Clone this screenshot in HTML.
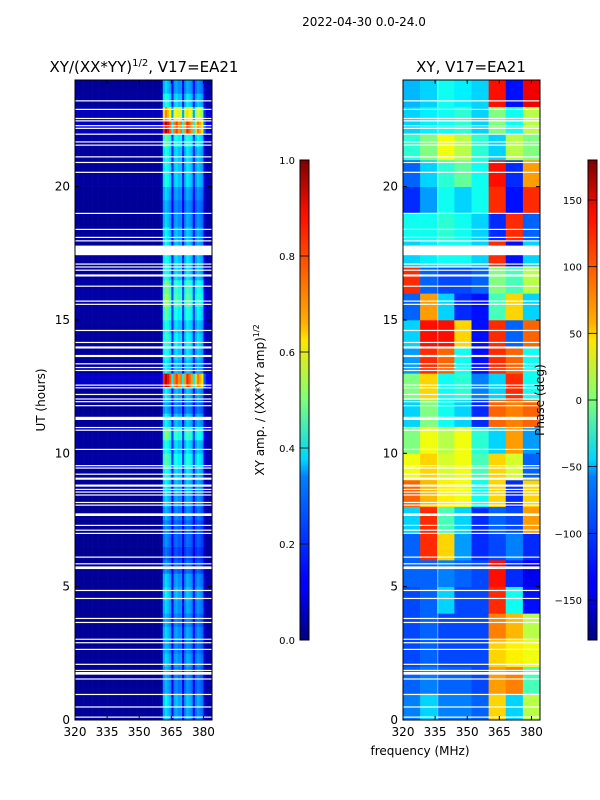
<!DOCTYPE html>
<html><head><meta charset="utf-8"><style>
html,body{margin:0;padding:0;background:#fff;}
svg{display:block;font-family:"DejaVu Sans","Liberation Sans",sans-serif;}
</style></head><body>
<svg id="fig" width="600" height="800" viewBox="0 0 600 800" xmlns="http://www.w3.org/2000/svg">
<defs>
<linearGradient id="jet" x1="0" y1="1" x2="0" y2="0">
<stop offset="0" stop-color="#00007f"/><stop offset="0.11" stop-color="#0000ff"/><stop offset="0.125" stop-color="#0000ff"/>
<stop offset="0.34" stop-color="#0080ff"/><stop offset="0.375" stop-color="#00d4ff"/><stop offset="0.5" stop-color="#7dff7a"/>
<stop offset="0.625" stop-color="#ffe600"/><stop offset="0.66" stop-color="#ffb000"/><stop offset="0.875" stop-color="#ff1300"/>
<stop offset="0.89" stop-color="#fa0f00"/><stop offset="1" stop-color="#7f0000"/>
</linearGradient>
</defs>
<text x="364" y="26" font-size="12" text-anchor="middle">2022-04-30 0.0-24.0</text>
<text x="144" y="72" font-size="15" text-anchor="middle">XY/(XX*YY)<tspan font-size="10" dy="-6">1/2</tspan><tspan dy="6">, V17=EA21</tspan></text>
<text x="471" y="72" font-size="15" text-anchor="middle">XY, V17=EA21</text>
<g id="leftMap"></g>
<g id="rightMap"></g>
<g id="axes"></g>
<rect x="300" y="160" width="9" height="480" fill="url(#jet)" stroke="#000" stroke-width="1"/>
<rect x="588" y="160" width="9" height="480" fill="url(#jet)" stroke="#000" stroke-width="1"/>
<g id="cbars"></g>
<text x="0" y="0" font-size="12" text-anchor="middle" transform="translate(264,400) rotate(-90)">XY amp. / (XX*YY amp)<tspan font-size="8" dy="-5">1/2</tspan></text>
<text x="0" y="0" font-size="12" text-anchor="middle" transform="translate(544,400) rotate(-90)">Phase (deg)</text>
<text x="0" y="0" font-size="12" text-anchor="middle" transform="translate(45,400) rotate(-90)">UT (hours)</text>
<text x="420" y="755" font-size="12" text-anchor="middle">frequency (MHz)</text>
</svg>
<script>
// ---- data ----
const freqTicks = [320, 335, 350, 365, 380];
const hourTicks = [0, 5, 10, 15, 20];
const ampTicks = [0.0, 0.2, 0.4, 0.6, 0.8, 1.0];
const phaseTicks = [-150, -100, -50, 0, 50, 100, 150];
// per-MHz channel weight (320..383)
const channelWeight = [0.025,0.025,0.025,0.025,0.025,0.025,0.025,0.025,0.025,0.025,0.025,0.025,0.025,0.025,0.025,0.025,0.025,0.025,0.025,0.025,
0.025,0.025,0.025,0.025,0.025,0.025,0.025,0.025,0.025,0.025,0.025,0.025,0.025,0.025,0.025,0.025,0.025,0.025,0.025,0.025,
0.04,0.3,0.34,0.31,0.28,0.13,0.27,0.29,0.26,0.27,0.13,0.26,0.3,0.28,0.26,0.13,0.24,0.27,0.25,0.23,0.08,0.04,0.04,0.04];
// half-hour amplitude level, hour 0 -> 24
const rowLevel = [1.0,1.1,0.9,0.9,1.0,0.9,1.0,0.9,1.0,1.1,1.0,0.8,0.7,0.8,0.8,0.9,1.0,1.1,1.2,1.4,1.2,1.5,1.1,0.9,1.1,2.8,1.1,1.2,1.3,1.2,1.4,1.6,1.5,1.2,1.2,1.1,1.1,1.0,0.9,1.0,1.2,1.2,1.2,1.4,2.8,2.2,1.2,1.0];
// phase grid (deg): 24 hourly rows (hour 0 first) x 8 bands of 8 MHz
const phaseGrid = [
[-90,-60,-90,-90,-100,60,-60,20],
[-100,-90,-100,-100,-110,80,90,-20],
[-110,-100,-110,-110,-110,60,50,40],
[-110,-100,-110,-110,-110,90,70,20],
[-110,-100,-60,-110,-110,120,-40,-130],
[-100,-100,-90,-100,-110,130,-120,-140],
[-100,120,60,-80,-120,-110,-90,-120],
[-60,120,-20,-60,-120,-100,-110,80],
[100,70,50,40,-40,60,-120,60],
[40,60,30,40,-20,60,30,-100],
[0,40,20,40,-30,-60,80,-80],
[-60,0,-40,-60,-120,100,90,100],
[0,60,-40,-30,-90,-60,120,-40],
[-80,120,100,-40,-130,120,100,-40],
[-60,130,130,60,-130,120,-100,100],
[-100,80,-60,-120,-130,-20,60,-60],
[120,-100,-110,-110,-100,0,-20,20],
[-60,-50,-40,-40,-60,120,-130,-60],
[-40,-40,-30,-40,-60,-120,120,-100],
[-120,-80,-40,-60,-40,120,-130,120],
[-100,-60,-30,-10,-40,130,-120,80],
[-30,0,40,20,-30,-60,20,0],
[-60,-50,-40,-30,-60,0,-40,20],
[-70,-60,-40,-50,-60,130,-130,140]];
// flagged (white) time ranges [start, end] in hours
const gaps = [[0.09,0.13],[0.47,0.51],[0.94,0.98],[1.52,1.56],[1.70,1.80],[1.84,1.88],[2.07,2.11],[2.63,2.67],[2.88,2.92],[3.01,3.05],[3.64,3.68],[3.79,3.83],[4.54,4.58],[4.84,4.88],[5.66,5.76],[5.84,5.88],[6.09,6.13],[6.98,7.02],[7.10,7.14],[7.28,7.32],[7.65,7.75],[8.04,8.08],[8.14,8.18],[8.42,8.46],[8.53,8.57],[8.63,8.67],[8.75,8.83],[9.01,9.09],[9.20,9.24],[9.43,9.47],[9.52,9.56],[10.13,10.17],[10.85,10.89],[10.95,10.99],[11.25,11.37],[11.77,11.81],[11.92,11.96],[12.02,12.06],[12.19,12.23],[12.44,12.48],[12.54,12.58],[13.09,13.13],[13.20,13.24],[13.34,13.38],[13.61,13.69],[13.93,14.01],[14.14,14.18],[14.59,14.63],[15.57,15.61],[15.69,15.73],[16.25,16.29],[16.63,16.71],[16.85,16.89],[16.97,17.01],[17.08,17.12],[17.43,17.79],[17.95,17.99],[18.08,18.12],[18.38,18.42],[18.98,19.02],[20.52,20.56],[20.89,20.93],[21.10,21.14],[21.54,21.58],[21.66,21.70],[21.95,21.99],[22.17,22.21],[22.27,22.31],[22.45,22.49],[22.54,22.58],[22.88,22.92],[23.20,23.24]];

// ---- helpers ----
const NS = "http://www.w3.org/2000/svg";
function jet(v){ v=Math.max(0,Math.min(1,v));
  const r=Math.max(0,Math.min(1,1.5-Math.abs(4*v-3)));
  const g=Math.max(0,Math.min(1,1.5-Math.abs(4*v-2)));
  const b=Math.max(0,Math.min(1,1.5-Math.abs(4*v-1)));
  return `rgb(${Math.round(r*255)},${Math.round(g*255)},${Math.round(b*255)})`; }
function mk(tag, attrs, parent){ const e=document.createElementNS(NS,tag); for(const k in attrs) e.setAttribute(k,attrs[k]); parent.appendChild(e); return e; }
const Y0=720, Y1=80, HMAX=24, FMIN=320, FMAX=384;
function yScale(h){ return Y0 - (h/HMAX)*(Y0-Y1); }
function xScaleL(f){ return 75 + (f-FMIN)/(FMAX-FMIN)*137; }
function xScaleR(f){ return 403 + (f-FMIN)/(FMAX-FMIN)*137; }

// ---- left heatmap ----
const L = document.getElementById('leftMap');
for(let r=0;r<rowLevel.length;r++){
  const h0=r*0.5, h1=h0+0.5;
  for(let c=0;c<channelWeight.length;c++){
    const f0=FMIN+c, f1=f0+1;
    const x=xScaleL(f0), y=yScale(h1);
    const cell=mk('rect',{x:x.toFixed(2),y:y.toFixed(2),width:(xScaleL(f1)-x+0.3).toFixed(2),height:(yScale(h0)-y+0.3).toFixed(2),fill:jet(Math.min(1,channelWeight[c]*rowLevel[r]))},L);
    
    
  }
}
// ---- right heatmap ----
const R = document.getElementById('rightMap');
for(let r=0;r<phaseGrid.length;r++){
  for(let c=0;c<phaseGrid[r].length;c++){
    const f0=FMIN+c*8, f1=f0+8;
    const x=xScaleR(f0), y=yScale(r+1);
    const cell=mk('rect',{x:x.toFixed(2),y:y.toFixed(2),width:(xScaleR(f1)-x+0.3).toFixed(2),height:(yScale(r)-y+0.3).toFixed(2),fill:jet((phaseGrid[r][c]+180)/360)},R);
    
    
  }
}
// gaps
for(const g of gaps){
  const y=yScale(g[1]), hh=Math.max(1.2,yScale(g[0])-y);
  const a=mk('rect',{x:75,y:y.toFixed(2),width:137,height:hh.toFixed(2),fill:'#fff'},L);
  
  
  const b=mk('rect',{x:403,y:y.toFixed(2),width:137,height:hh.toFixed(2),fill:'#fff'},R);
  
  
}
const vl=mk('rect',{x:xScaleR(336),y:80,width:1,height:640,fill:'#fff',opacity:0.5},R);



// ---- axes ----
const A=document.getElementById('axes');
for(const [x0,xs,nm] of [[75,xScaleL,'left'],[403,xScaleR,'right']]){
  const fr=mk('rect',{x:x0,y:80,width:137,height:640,fill:'none',stroke:'#000','stroke-width':1},A);
  
  
  for(const t of freqTicks){
    const x=xs(t);
    mk('line',{x1:x,y1:720,x2:x,y2:716,stroke:'#000'},A);
    mk('line',{x1:x,y1:80,x2:x,y2:84,stroke:'#000'},A);
    const tl=mk('text',{x:x,y:736,'font-size':12,'text-anchor':'middle'},A);
    tl.textContent=t;
    
    
  }
  for(const t of hourTicks){
    const y=yScale(t);
    mk('line',{x1:x0,y1:y,x2:x0+4,y2:y,stroke:'#000'},A);
    mk('line',{x1:x0+137,y1:y,x2:x0+133,y2:y,stroke:'#000'},A);
    const tl=mk('text',{x:x0-5,y:y+4,'font-size':12,'text-anchor':'end'},A);
    tl.textContent=t;
    
    
  }
}
// ---- colorbar ticks ----
const C=document.getElementById('cbars');
for(const t of ampTicks){
  const y=640-t*480;
  mk('line',{x1:300,y1:y,x2:309,y2:y,stroke:'#000','stroke-width':0.8},C);
  const tl=mk('text',{x:295,y:y+4,'font-size':10,'text-anchor':'end'},C);
  tl.textContent=t.toFixed(1);
  
  
}
for(const t of phaseTicks){
  const y=640-(t+180)/360*480;
  mk('line',{x1:588,y1:y,x2:597,y2:y,stroke:'#000','stroke-width':0.8},C);
  const tl=mk('text',{x:582,y:y+4,'font-size':10,'text-anchor':'end'},C);
  tl.textContent=(t<0?'\u2212'+(-t):t);
  
  
}
</script>
</body></html>
